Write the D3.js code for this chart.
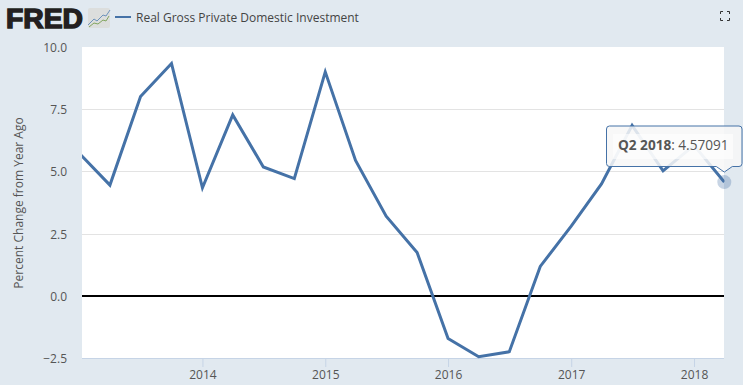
<!DOCTYPE html>
<html>
<head>
<meta charset="utf-8">
<script src="https://cdn.jsdelivr.net/npm/d3@7/dist/d3.min.js"></script>
<style>
html, body { margin: 0; padding: 0; background: #e1e9f0; overflow: hidden; }
svg { display: block; font-family: "Open Sans", sans-serif; }
.axis path { display: none; }
.axis text { font-size: 12px; fill: #555; font-family: "Open Sans", sans-serif; }
</style>
</head>
<body>
<script>
const quarters = ['2013-01-01', '2013-04-01', '2013-07-01', '2013-10-01', '2014-01-01', '2014-04-01',
  '2014-07-01', '2014-10-01', '2015-01-01', '2015-04-01', '2015-07-01', '2015-10-01', '2016-01-01',
  '2016-04-01', '2016-07-01', '2016-10-01', '2017-01-01', '2017-04-01', '2017-07-01', '2017-10-01',
  '2018-01-01', '2018-04-01'];
const values = [5.71, 4.45, 8.01, 9.34, 4.34, 7.27, 5.18, 4.71, 9.0, 5.44, 3.2, 1.74, -1.72,
  -2.45, -2.25, 1.18, 2.8, 4.5, 6.85, 5.02, 6.05, 4.57091];
const yTicks = [-2.5, 0, 2.5, 5, 7.5, 10];
const xYears = [2014, 2015, 2016, 2017, 2018];
const seriesName = 'Real Gross Private Domestic Investment';
const yTitle = 'Percent Change from Year Ago';

const width = 743;
const height = 385;
const blue = '#4572a7';

const parseDay = d3.utcParse('%Y-%m-%d');

const svg = d3.select('body').append('svg').attr('width', width).attr('height', height);

const x = d3.scaleUtc()
  .domain([parseDay('2013-01-08'), parseDay('2018-04-01')])
  .range([82, 724.3]);
const y = d3.scaleLinear().domain([-2.5, 10]).range([358, 47]);

// plot background
svg.append('rect').attr('x', 82).attr('y', 47).attr('width', 642).attr('height', 311).attr('fill', '#fff');

svg.append('clipPath').attr('id', 'plot')
  .append('rect').attr('x', 82).attr('y', 40).attr('width', 642.5).attr('height', 325);

// grid
svg.append('g').selectAll('line')
  .data(yTicks.filter(d => d > -2.5 && d < 10 && d !== 0))
  .enter().append('line')
  .attr('x1', 82).attr('x2', 724)
  .attr('y1', d => Math.round(y(d)) + 0.5).attr('y2', d => Math.round(y(d)) + 0.5)
  .attr('stroke', '#e3e3e3');

// y axis
const yAxis = d3.axisLeft(y).tickValues(yTicks).tickSize(0).tickPadding(15).tickFormat(d3.format('.1f'));
const yg = svg.append('g').attr('class', 'axis y').attr('transform', 'translate(82,0.6)').call(yAxis);

// x axis
const xAxis = d3.axisBottom(x)
  .tickValues(xYears.map(d => parseDay(d + '-01-01')))
  .tickSize(9).tickPadding(3).tickFormat(d3.utcFormat('%Y'));
const xg = svg.append('g').attr('class', 'axis x').attr('transform', 'translate(0,358)').call(xAxis);
xg.selectAll('line').attr('stroke', '#c6d4e6');
svg.append('line').attr('x1', 82).attr('x2', 724).attr('y1', 358.5).attr('y2', 358.5).attr('stroke', '#c6d4e6');

// zero line
svg.append('line').attr('x1', 82).attr('x2', 724).attr('y1', Math.round(y(0))).attr('y2', Math.round(y(0)))
  .attr('stroke', '#000').attr('stroke-width', 2);

// series
const line = d3.line().x((d, i) => x(parseDay(quarters[i]))).y(d => y(d));
const seriesPath = svg.append('path')
  .attr('clip-path', 'url(#plot)')
  .attr('fill', 'none').attr('stroke', blue).attr('stroke-width', 3).attr('stroke-linejoin', 'miter')
  .attr('d', line(values));

// hover halo on last point
const lastX = x(parseDay(quarters[quarters.length - 1]));
const lastY = y(values[values.length - 1]);
svg.append('circle').attr('cx', lastX).attr('cy', lastY).attr('r', 7)
  .attr('fill', blue).attr('fill-opacity', 0.3);

// tooltip
const tip = svg.append('g');
const tipPath = 'M606.5,129 a3,3 0 0 1 3,-3 H739 a3,3 0 0 1 3,3 V163.5 a3,3 0 0 1 -3,3 H' + (lastX + 8)
  + ' L' + lastX + ',' + (lastY - 10) + ' L' + (lastX - 8) + ',166.5 H609.5 a3,3 0 0 1 -3,-3 Z';
tip.append('path').attr('d', tipPath).attr('fill', '#f7f7f7').attr('fill-opacity', 0.85)
  .attr('stroke', blue).attr('stroke-width', 1);
tip.append('rect').attr('x', 613).attr('y', 134).attr('width', 120).attr('height', 25).attr('fill', '#fff').attr('fill-opacity', 0.6);
const tipText = tip.append('text').attr('x', 618).attr('y', 150).attr('font-size', 13.6).attr('fill', '#555');
tipText.append('tspan').attr('font-weight', 700).text('Q2 2018');
tipText.append('tspan').text(': ' + values[values.length - 1]);

// y title
svg.append('text')
  .attr('transform', 'translate(23,203) rotate(-90)')
  .attr('text-anchor', 'middle').attr('font-size', 12).attr('fill', '#555')
  .text(yTitle);

// logo
svg.append('text').attr('x', 6).attr('y', 27.5).attr('font-family', '"Liberation Sans", sans-serif')
  .attr('font-size', 27).attr('font-weight', 700).attr('fill', '#231f20')
  .attr('stroke', '#231f20').attr('stroke-width', 1.4).attr('textLength', 77).attr('lengthAdjust', 'spacingAndGlyphs')
  .text('FRED');
const logo = svg.append('g').attr('transform', 'translate(88,8)');
logo.append('rect').attr('width', 22).attr('height', 20).attr('rx', 2).attr('fill', '#dcdedd');
logo.append('path').attr('d', 'M0,17 L6,11 L9,13 L15,7 L18,8 L22,2').attr('fill', 'none').attr('stroke', '#6d93bb');
logo.append('path').attr('d', 'M1,19 L6,15 L10,16 L15,12 L18,13 L21,8').attr('fill', 'none').attr('stroke', '#82a55f');

// legend
svg.append('line').attr('x1', 115).attr('x2', 131).attr('y1', 17).attr('y2', 17)
  .attr('stroke', blue).attr('stroke-width', 2);
svg.append('text').attr('x', 136).attr('y', 22).attr('font-size', 12).attr('fill', '#444').text(seriesName);

// fullscreen icon
const icon = svg.append('g').attr('fill', 'none').attr('stroke', '#333').attr('stroke-width', 1);
['M720.5,14 V11.5 H723', 'M727,11.5 H729.5 V14', 'M720.5,18 V20.5 H723', 'M727,20.5 H729.5 V18']
  .forEach(d => icon.append('path').attr('d', d));
</script>
</body>
</html>
